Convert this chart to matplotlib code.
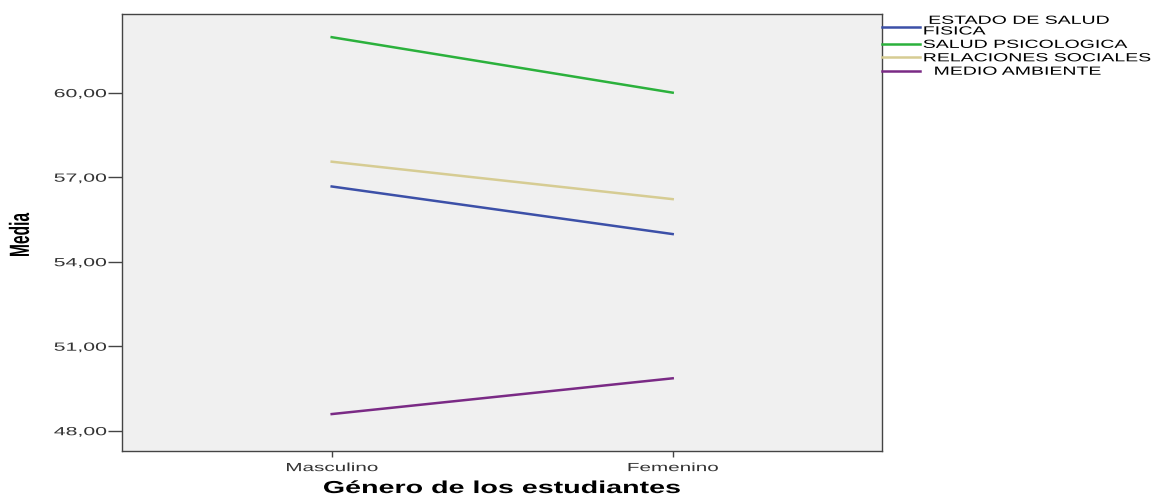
import matplotlib.pyplot as plt
from matplotlib.patheffects import AbstractPathEffect
from matplotlib.transforms import Affine2D

# datos
generos = ['Masculino', 'Femenino']
salud_fisica = [56.67, 54.98]
salud_psicologica = [61.97, 60.00]
relaciones_sociales = [57.55, 56.22]
medio_ambiente = [48.59, 49.86]
etiquetas = [' ESTADO DE SALUD\nFISICA', 'SALUD PSICOLOGICA', 'RELACIONES SOCIALES', '  MEDIO AMBIENTE']
colores = ['#3c50a8', '#2bb13c', '#d6cc93', '#7a2a85']
yticks = [48, 51, 54, 57, 60]


# el texto del original sale estirado en horizontal
class Ancho(AbstractPathEffect):
    def __init__(self, sx, ancla='center'):
        super().__init__()
        self.sx = sx
        self.ancla = ancla

    def draw_path(self, renderer, gc, tpath, affine, rgbFace=None):
        v = tpath.vertices
        if len(v) == 0:
            return
        if self.ancla == 'left':
            cx = 0
        elif self.ancla == 'right':
            cx = v[:, 0].max()
        else:
            cx = (v[:, 0].min() + v[:, 0].max()) / 2
        t = Affine2D().translate(-cx, 0).scale(self.sx, 1).translate(cx, 0) + affine
        renderer.draw_path(gc, tpath, t, rgbFace)


plt.rcParams['font.family'] = ['Liberation Sans', 'DejaVu Sans']

fig = plt.figure(figsize=(11.53, 4.97), dpi=100)
ax = fig.add_axes([0.1058, 0.0926, 0.6592, 0.8802])
ax.set_facecolor('#f0f0f0')

x = list(range(len(generos)))
series = [salud_fisica, salud_psicologica, relaciones_sociales, medio_ambiente]
for vals, lab, col in zip(series, etiquetas, colores):
    ax.plot(x, vals, color=col, lw=1.8, label=lab)

ax.set_xlim(-0.615, 1.614)
ax.set_ylim(47.28, 62.81)
ax.set_xticks(x)
ax.set_xticklabels(generos, fontsize=8.5, color='#333333')
ax.set_yticks(yticks)
ax.set_yticklabels([f'{v:.2f}'.replace('.', ',') for v in yticks], fontsize=8.5, color='#333333')
ax.tick_params(axis='y', length=10, width=1, color='#444444', pad=1)
ax.tick_params(axis='x', length=4, width=1, color='#444444', pad=4)
for t in ax.get_xticklabels():
    t.set_path_effects([Ancho(1.75, 'center')])
for t in ax.get_yticklabels():
    t.set_path_effects([Ancho(1.8, 'right')])

for s in ax.spines.values():
    s.set_color('#444444')
    s.set_linewidth(1)

fig.text(0.4354, 0.008, 'Género de los estudiantes', fontsize=12.5, fontweight='bold',
         ha='center', va='baseline', path_effects=[Ancho(1.65, 'center')])
fig.text(0.019, 0.527, 'Media', fontsize=20, fontweight='bold', rotation=90,
         ha='center', va='center', path_effects=[Ancho(0.56, 'center')])

leg = ax.legend(loc='upper left', bbox_to_anchor=(1.0, 0.997), frameon=False,
                fontsize=8.5, handlelength=3.2, handletextpad=0.25,
                labelspacing=0.12, borderaxespad=0, borderpad=0)
for t in leg.get_texts():
    t.set_path_effects([Ancho(1.65, 'left')])
    t.set_linespacing(0.85)

fig.savefig('out.png', dpi=100)
